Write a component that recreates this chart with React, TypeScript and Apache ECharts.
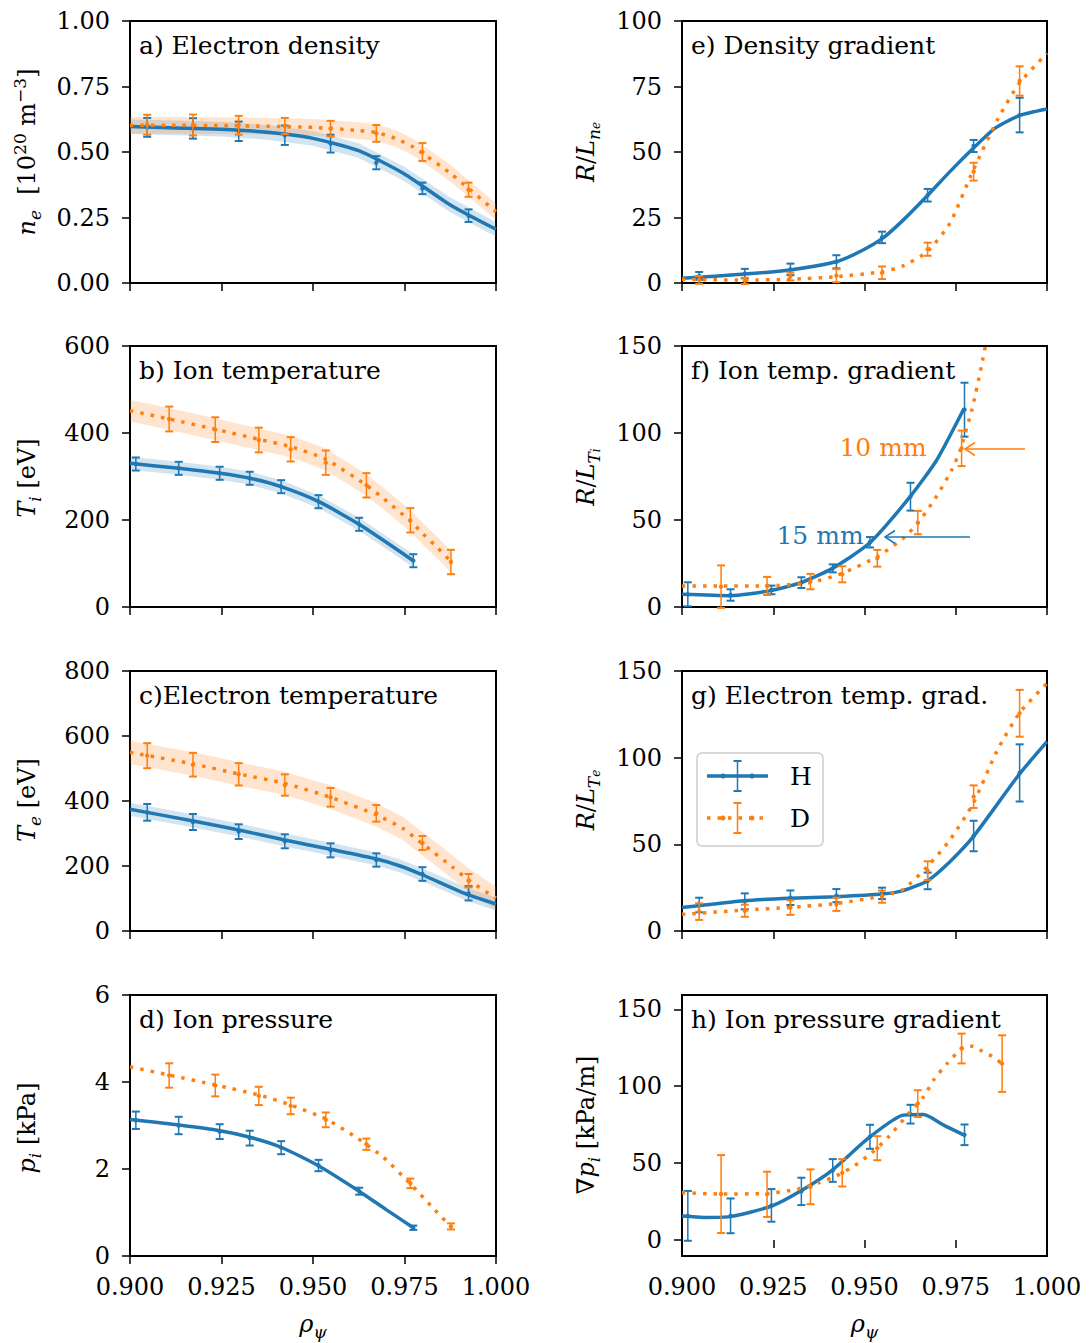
import React, { useEffect, useRef } from "react";
import * as echarts from "echarts";

const BLUE = "#1f77b4";
const ORANGE = "#ff7f0e";
const BLUE_BAND = "rgba(31,119,180,0.2)";
const ORANGE_BAND = "rgba(255,127,14,0.2)";
const FONT = "DejaVu Serif";

// ---- x axis ----
const xMin = 0.9;
const xMax = 1.0;
const xStep = 0.025;

// ---- measurement locations ----
const rhoA = [0.9047, 0.9172, 0.9297, 0.9423, 0.9548, 0.9673, 0.9799, 0.9925];
const rhoTiH = [0.9016, 0.9133, 0.9245, 0.9327, 0.9413, 0.9515, 0.9626, 0.9774];
const rhoTiD = [0.9107, 0.9233, 0.9352, 0.9439, 0.9535, 0.9646, 0.9766, 0.9877];

// ---- a) electron density ----
const neH = [0.594, 0.59, 0.579, 0.564, 0.532, 0.459, 0.361, 0.257];
const neHErr = [0.036, 0.039, 0.037, 0.037, 0.034, 0.025, 0.022, 0.024];
const neD = [0.604, 0.603, 0.602, 0.599, 0.589, 0.571, 0.5, 0.356];
const neDErr = [0.038, 0.04, 0.036, 0.031, 0.03, 0.032, 0.034, 0.027];
const neHFitRho = [0.9, 0.9125, 0.925, 0.9375, 0.95, 0.9625, 0.975, 0.9875, 1.0];
const neHFit = [0.597, 0.592, 0.587, 0.575, 0.552, 0.505, 0.416, 0.298, 0.205];
const neDFitRho = [0.9, 0.9125, 0.925, 0.9375, 0.95, 0.9625, 0.9675, 0.9725, 0.9775, 0.9875, 1.0];
const neDFit = [0.602, 0.602, 0.601, 0.598, 0.594, 0.582, 0.574, 0.552, 0.518, 0.419, 0.272];
const neHBand = 0.028;
const neDBand = 0.032;

// ---- b) ion temperature ----
const TiH = [328.7, 318.8, 307.4, 295.9, 276.6, 242.1, 190.1, 106.4];
const TiHErr = [15, 15, 15, 15, 15, 15, 15, 15];
const TiD = [432.2, 407.7, 383.9, 362.5, 331.8, 279.7, 199.3, 103.4];
const TiDErr = [28.5, 28.4, 28.4, 28, 28, 28, 28, 28];
const TiHFitRho = [0.9, 0.9134, 0.9246, 0.9328, 0.9413, 0.9516, 0.9626, 0.9774];
const TiHFit = [330.3, 318.8, 307.4, 295.9, 276.6, 242.1, 190.1, 106.4];
const TiDFitRho = [0.9, 0.9107, 0.9234, 0.9353, 0.944, 0.9535, 0.9645, 0.9692, 0.9765, 0.9801, 0.9842, 0.9877];
const TiDFit = [451.3, 432.2, 408.4, 385.4, 368.5, 339.5, 280.5, 249.8, 198.5, 167.8, 134.9, 104.2];
const TiHBand = 15;
const TiDBand = 25;

// ---- c) electron temperature ----
const TeH = [365.1, 335.4, 305.6, 276.0, 248.2, 218.5, 175.4, 116.0];
const TeHErr = [25.6, 24.6, 22.6, 21.5, 21.5, 20.5, 21, 22];
const TeD = [539.4, 511.7, 482.1, 449.2, 411.4, 362.1, 270.8, 154.8];
const TeDErr = [38.5, 36.4, 34.4, 32.8, 28.7, 25.6, 21.5, 20.5];
const TeHFitRho = [0.9, 0.9173, 0.9298, 0.9423, 0.9548, 0.9674, 0.9738, 0.98, 0.9925, 1.0];
const TeHFit = [374.4, 338.5, 310.8, 280, 251.3, 221.5, 200, 172.3, 110.8, 83.1];
const TeDFitRho = [0.9, 0.9173, 0.9298, 0.9423, 0.9548, 0.9674, 0.9745, 0.98, 0.9882, 0.9925, 1.0];
const TeDFit = [549.7, 513.8, 483.1, 454.2, 411.4, 356.9, 315.9, 267.7, 196, 156.9, 100.5];
const TeHBand = 20;
const TeDBand = 36;

// ---- d) ion pressure ----
const piH = [3.12, 3.0, 2.86, 2.71, 2.49, 2.08, 1.49, 0.65];
const piHErr = [0.2, 0.2, 0.17, 0.17, 0.15, 0.13, 0.08, 0.05];
const piD = [4.15, 3.92, 3.68, 3.45, 3.13, 2.57, 1.67, 0.68];
const piDErr = [0.28, 0.25, 0.21, 0.19, 0.17, 0.13, 0.11, 0.07];
const piHFitRho = [0.9, 0.9134, 0.9246, 0.9328, 0.9413, 0.9516, 0.9626, 0.9701, 0.9774];
const piHFit = [3.14, 3.01, 2.88, 2.73, 2.5, 2.07, 1.49, 1.06, 0.65];
const piDFitRho = [0.9, 0.9107, 0.9234, 0.9353, 0.944, 0.9535, 0.9621, 0.9692, 0.9765, 0.9833, 0.9877];
const piDFit = [4.35, 4.16, 3.93, 3.7, 3.47, 3.15, 2.71, 2.27, 1.67, 1.06, 0.67];

// ---- e) density gradient ----
const LnH = [2.7, 3.6, 5.2, 8.1, 17.4, 33.5, 52.3, 64.1];
const LnHErr = [1.5, 1.8, 2.2, 2.5, 2.2, 2.4, 2.3, 6.6];
const LnD = [1.2, 0.8, 2.5, 2.8, 3.9, 12.9, 42.5, 77.1];
const LnDErr = [1.5, 1.2, 1.5, 2.5, 2.4, 2.5, 3.4, 5.6];
const LnHFitRho = [0.9, 0.9171, 0.9296, 0.9422, 0.9488, 0.9549, 0.9606, 0.9672, 0.9734, 0.9798, 0.9857, 0.9924, 1.0];
const LnHFit = [1.8, 3.4, 5.0, 8.1, 12.0, 17.0, 24.0, 33.3, 42.5, 51.4, 59.0, 63.9, 66.4];
const LnDFitRho = [0.9, 0.9171, 0.9296, 0.9422, 0.9549, 0.9606, 0.9672, 0.9734, 0.9798, 0.9866, 0.9924, 1.0];
const LnDFit = [1.4, 1.1, 1.4, 2.4, 4.3, 6.5, 12.0, 22.8, 43.1, 62.8, 76.2, 87.7];

// ---- f) ion temperature gradient ----
const LTiH = [7.3, 6.9, 9.8, 14.0, 22.2, 37.2, 63.4, 113.4];
const LTiHErr = [6.9, 3.3, 2.5, 3.1, 2.3, 3.0, 8.0, 15.5];
const LTiD = [11.7, 12.1, 14.6, 18.8, 28.0, 48.5, 91.2];
const LTiDErr = [12.2, 5.2, 4.4, 4.6, 4.8, 6.7, 10.2];
const LTiHFitRho = [0.9, 0.9132, 0.9243, 0.9326, 0.9412, 0.9513, 0.9625, 0.9698, 0.9773];
const LTiHFit = [7.3, 6.5, 9.4, 14.0, 22.2, 36.6, 63.4, 84.5, 114.2];
const LTiDFitRho = [0.9, 0.9107, 0.9232, 0.9351, 0.9438, 0.9535, 0.9606, 0.9646, 0.9698, 0.9739, 0.9762, 0.9794, 0.9821, 0.9845];
const LTiDFit = [12.1, 12.1, 12.1, 14.0, 19.3, 28.9, 39.5, 48.1, 63.8, 78.7, 90.2, 113.2, 139.1, 165];

// ---- g) electron temperature gradient ----
const LTeH = [15.0, 17.1, 19.2, 20.4, 21.7, 28.9, 54.8, 91.2];
const LTeHErr = [4.2, 4.6, 4.2, 3.8, 3.3, 4.8, 8.8, 16.5];
const LTeD = [11.2, 11.7, 13.5, 15.4, 19.8, 34.8, 77.5, 125.6];
const LTeDErr = [4.8, 3.5, 4.2, 3.8, 3.5, 5.4, 6.5, 13.5];
const LTeHFitRho = [0.9, 0.9171, 0.9296, 0.9424, 0.9549, 0.9606, 0.9672, 0.9734, 0.9798, 0.9924, 1.0];
const LTeHFit = [13.5, 17.5, 18.9, 19.8, 21.3, 23.3, 28.9, 40.0, 54.4, 90.4, 109.2];
const LTeDFitRho = [0.9, 0.9171, 0.9296, 0.9424, 0.9549, 0.9606, 0.9672, 0.9734, 0.9798, 0.9862, 0.9924, 1.0];
const LTeDFit = [9.6, 12.1, 13.6, 15.9, 20.2, 24.0, 37.1, 52.5, 73.7, 103.5, 125.6, 142.9];

// ---- h) ion pressure gradient ----
const gpH = [15.7, 15.7, 22.5, 31.6, 45.2, 67.1, 81.8, 68.4];
const gpHErr = [16.2, 11.3, 10.6, 8.9, 7.4, 7.8, 6.1, 6.7];
const gpD = [29.9, 29.7, 34.6, 43.7, 59.7, 88.7, 124.5, 114.7];
const gpDErr = [25.3, 14.7, 11.3, 8.9, 7.8, 8.7, 9.7, 18.4];
const gpHFitRho = [0.9, 0.906, 0.9132, 0.9246, 0.9326, 0.9412, 0.9513, 0.9606, 0.9662, 0.9717, 0.9773];
const gpHFit = [15.6, 14.7, 15.2, 22.1, 32.0, 45.5, 66.7, 81.2, 81.6, 74.7, 68.2];
const gpDFitRho = [0.9, 0.9107, 0.9232, 0.9315, 0.9374, 0.9424, 0.9474, 0.952, 0.9566, 0.9621, 0.9662, 0.9689, 0.9726, 0.9772, 0.9797, 0.9822, 0.9849, 0.9877];
const gpDFit = [30.8, 29.9, 30.3, 32.9, 37.2, 41.8, 48.5, 56.7, 67.1, 82.3, 93.1, 103.9, 114.7, 125.5, 126.0, 122.9, 119.5, 114.7];

// ---- y axes ----
const yTicksH = [0, 50, 100, 150];

const RICH: any = {
  r: { fontSize: 24, fontFamily: FONT, lineHeight: 32, fill: "#000" },
  i: { fontSize: 24, fontFamily: FONT, fontStyle: "italic", lineHeight: 32, fill: "#000" },
  sb: { fontSize: 17, fontFamily: FONT, lineHeight: 17, verticalAlign: "bottom", fill: "#000" },
  sbi: { fontSize: 17, fontFamily: FONT, fontStyle: "italic", lineHeight: 17, verticalAlign: "bottom", fill: "#000" },
  ssb: { fontSize: 12, fontFamily: FONT, fontStyle: "italic", lineHeight: 10, verticalAlign: "bottom", fill: "#000" },
  sp: { fontSize: 17, fontFamily: FONT, lineHeight: 17, verticalAlign: "top", fill: "#000" },
};

type Curve = { fitRho: number[]; fit: number[]; band?: number; ptRho: number[]; pt: number[]; err: number[] };
type Panel = {
  col: number; row: number; title: string;
  yMin: number; yMax: number; yInterval?: number; yCustom?: number[]; yDec: number;
  ylabel: string; ylabelX: number; ylabelY: number;
  H: Curve; D: Curve;
};

const panels: Panel[] = [
  { col: 0, row: 0, title: "a) Electron density", yMin: 0, yMax: 1, yInterval: 0.25, yDec: 2,
    ylabel: "{i|n}{sbi|e}{r|  [10}{sp|20}{r| m}{sp|−3}{r|]}", ylabelX: 27, ylabelY: 152,
    H: { fitRho: neHFitRho, fit: neHFit, band: neHBand, ptRho: rhoA, pt: neH, err: neHErr },
    D: { fitRho: neDFitRho, fit: neDFit, band: neDBand, ptRho: rhoA, pt: neD, err: neDErr } },
  { col: 0, row: 1, title: "b) Ion temperature", yMin: 0, yMax: 600, yInterval: 200, yDec: 0,
    ylabel: "{i|T}{sbi|i}{r| [eV]}", ylabelX: 27, ylabelY: 478,
    H: { fitRho: TiHFitRho, fit: TiHFit, band: TiHBand, ptRho: rhoTiH, pt: TiH, err: TiHErr },
    D: { fitRho: TiDFitRho, fit: TiDFit, band: TiDBand, ptRho: rhoTiD, pt: TiD, err: TiDErr } },
  { col: 0, row: 2, title: "c)Electron temperature", yMin: 0, yMax: 800, yInterval: 200, yDec: 0,
    ylabel: "{i|T}{sbi|e}{r| [eV]}", ylabelX: 27, ylabelY: 800,
    H: { fitRho: TeHFitRho, fit: TeHFit, band: TeHBand, ptRho: rhoA, pt: TeH, err: TeHErr },
    D: { fitRho: TeDFitRho, fit: TeDFit, band: TeDBand, ptRho: rhoA, pt: TeD, err: TeDErr } },
  { col: 0, row: 3, title: "d) Ion pressure", yMin: 0, yMax: 6, yInterval: 2, yDec: 0,
    ylabel: "{i|p}{sbi|i}{r| [kPa]}", ylabelX: 27, ylabelY: 1128,
    H: { fitRho: piHFitRho, fit: piHFit, ptRho: rhoTiH, pt: piH, err: piHErr },
    D: { fitRho: piDFitRho, fit: piDFit, ptRho: rhoTiD, pt: piD, err: piDErr } },
  { col: 1, row: 0, title: "e) Density gradient", yMin: 0, yMax: 100, yInterval: 25, yDec: 0,
    ylabel: "{i|R}{r|/}{i|L}{sbi|n}{ssb|e}", ylabelX: 586, ylabelY: 152,
    H: { fitRho: LnHFitRho, fit: LnHFit, ptRho: rhoA, pt: LnH, err: LnHErr },
    D: { fitRho: LnDFitRho, fit: LnDFit, ptRho: rhoA, pt: LnD, err: LnDErr } },
  { col: 1, row: 1, title: "f) Ion temp. gradient", yMin: 0, yMax: 150, yInterval: 50, yDec: 0,
    ylabel: "{i|R}{r|/}{i|L}{sbi|T}{ssb|i}", ylabelX: 586, ylabelY: 477,
    H: { fitRho: LTiHFitRho, fit: LTiHFit, ptRho: rhoTiH, pt: LTiH, err: LTiHErr },
    D: { fitRho: LTiDFitRho, fit: LTiDFit, ptRho: rhoTiD, pt: LTiD, err: LTiDErr } },
  { col: 1, row: 2, title: "g) Electron temp. grad.", yMin: 0, yMax: 150, yInterval: 50, yDec: 0,
    ylabel: "{i|R}{r|/}{i|L}{sbi|T}{ssb|e}", ylabelX: 586, ylabelY: 800,
    H: { fitRho: LTeHFitRho, fit: LTeHFit, ptRho: rhoA, pt: LTeH, err: LTeHErr },
    D: { fitRho: LTeDFitRho, fit: LTeDFit, ptRho: rhoA, pt: LTeD, err: LTeDErr } },
  { col: 1, row: 3, title: "h) Ion pressure gradient", yMin: -10.4, yMax: 159.3, yCustom: yTicksH, yDec: 0,
    ylabel: "{r|∇}{i|p}{sbi|i}{r| [kPa/m]}", ylabelX: 586, ylabelY: 1125,
    H: { fitRho: gpHFitRho, fit: gpHFit, ptRho: rhoTiH, pt: gpH, err: gpHErr },
    D: { fitRho: gpDFitRho, fit: gpDFit, ptRho: rhoTiD, pt: gpD, err: gpDErr } },
];

const COLS = [
  { left: 130, width: 366 },
  { left: 682, width: 365 },
];
const ROWS = [
  { top: 21, height: 262 },
  { top: 346, height: 261 },
  { top: 671, height: 260 },
  { top: 995, height: 261 },
];

function bandSeries(k: number, xs: number[], ys: number[], half: number, color: string) {
  const pts = xs.map((x, i) => [x, ys[i] - half, ys[i] + half]);
  return {
    type: "custom",
    xAxisIndex: k,
    yAxisIndex: k,
    data: pts,
    encode: { x: 0, y: [1, 2] },
    silent: true,
    z: 1,
    renderItem: (params: any, api: any) => {
      if (params.dataIndex !== 0) return null;
      const upper = pts.map((p) => api.coord([p[0], p[2]]));
      const lower = pts.map((p) => api.coord([p[0], p[1]])).reverse();
      return { type: "polygon", shape: { points: upper.concat(lower) }, style: { fill: color } };
    },
  };
}

function errSeries(k: number, xs: number[], ys: number[], es: number[], color: string, z: number) {
  const data = ys.map((y, i) => [xs[i], y, es[i]]);
  return {
    type: "custom",
    xAxisIndex: k,
    yAxisIndex: k,
    data,
    encode: { x: 0, y: 1 },
    silent: true,
    z,
    renderItem: (params: any, api: any) => {
      const x = api.value(0);
      const y = api.value(1);
      const e = api.value(2);
      const t = api.coord([x, y + e]);
      const b = api.coord([x, y - e]);
      const c = api.coord([x, y]);
      const w = 4;
      return {
        type: "group",
        children: [
          { type: "line", shape: { x1: t[0], y1: t[1], x2: b[0], y2: b[1] }, style: { stroke: color, lineWidth: 1.5 } },
          { type: "line", shape: { x1: t[0] - w, y1: t[1], x2: t[0] + w, y2: t[1] }, style: { stroke: color, lineWidth: 2 } },
          { type: "line", shape: { x1: b[0] - w, y1: b[1], x2: b[0] + w, y2: b[1] }, style: { stroke: color, lineWidth: 2 } },
          { type: "circle", shape: { cx: c[0], cy: c[1], r: 2.2 }, style: { fill: color } },
        ],
      };
    },
  };
}

function lineSeries(k: number, xs: number[], ys: number[], color: string, dotted: boolean, z: number) {
  return {
    type: "line",
    xAxisIndex: k,
    yAxisIndex: k,
    data: xs.map((x, i) => [x, ys[i]]),
    showSymbol: false,
    symbol: "none",
    smooth: 0.2,
    clip: true,
    silent: true,
    z,
    lineStyle: dotted
      ? { color, width: 3.5, type: [3.5, 7], cap: "butt" }
      : { color, width: 3.5 },
  };
}

function buildOption() {
  const grids: any[] = [];
  const xAxes: any[] = [];
  const yAxes: any[] = [];
  const series: any[] = [];
  const graphics: any[] = [];

  panels.forEach((p, k) => {
    const c = COLS[p.col];
    const r = ROWS[p.row];
    grids.push({
      left: c.left, top: r.top, width: c.width, height: r.height,
      show: true, borderColor: "#000", borderWidth: 2, backgroundColor: "transparent",
      containLabel: false,
    });
    xAxes.push({
      type: "value", gridIndex: k, min: xMin, max: xMax, interval: xStep,
      axisLine: { show: false },
      axisTick: { show: true, length: 8, lineStyle: { color: "#000", width: 1.5 } },
      axisLabel: {
        show: p.row === 3, color: "#000", fontSize: 24, fontFamily: FONT, margin: 19,
        formatter: (v: number) => v.toFixed(3),
      },
      splitLine: { show: false },
    });
    const y: any = {
      type: "value", gridIndex: k, min: p.yMin, max: p.yMax,
      axisLine: { show: false },
      axisTick: { show: true, length: 8, lineStyle: { color: "#000", width: 1.5 } },
      axisLabel: {
        color: "#000", fontSize: 24, fontFamily: FONT, margin: 20,
        formatter: (v: number) => v.toFixed(p.yDec),
      },
      splitLine: { show: false },
    };
    if (p.yCustom) {
      y.axisTick.customValues = p.yCustom;
      y.axisLabel.customValues = p.yCustom;
    } else {
      y.interval = p.yInterval;
    }
    yAxes.push(y);

    if (p.H.band !== undefined) series.push(bandSeries(k, p.H.fitRho, p.H.fit, p.H.band, BLUE_BAND));
    if (p.D.band !== undefined) series.push(bandSeries(k, p.D.fitRho, p.D.fit, p.D.band, ORANGE_BAND));
    series.push(lineSeries(k, p.H.fitRho, p.H.fit, BLUE, false, 3));
    series.push(errSeries(k, p.H.ptRho, p.H.pt, p.H.err, BLUE, 4));
    series.push(lineSeries(k, p.D.fitRho, p.D.fit, ORANGE, true, 5));
    series.push(errSeries(k, p.D.ptRho, p.D.pt, p.D.err, ORANGE, 6));

    graphics.push({
      type: "text", x: c.left + 9, y: r.top + 24, z: 10,
      style: { text: p.title, fontSize: 25, fontFamily: FONT, fill: "#000", align: "left", verticalAlign: "middle" },
    });
    graphics.push({
      type: "text", x: p.ylabelX, y: p.ylabelY, rotation: Math.PI / 2, z: 10,
      style: { text: p.ylabel, rich: RICH, align: "center", verticalAlign: "middle" },
    });
    if (p.row === 3) {
      graphics.push({
        type: "text", x: c.left + c.width / 2, y: 1324, z: 10,
        style: { text: "{i|ρ}{sbi|ψ}", rich: RICH, align: "center", verticalAlign: "middle" },
      });
    }
  });

  // legend (panel g)
  graphics.push({
    type: "rect", z: 20,
    shape: { x: 697, y: 753, width: 126, height: 93, r: 5 },
    style: { fill: "rgba(255,255,255,0.8)", stroke: "#cccccc", lineWidth: 1.5 },
  });
  const legendRows = [
    { y: 776, color: BLUE, dotted: false, label: "H" },
    { y: 818, color: ORANGE, dotted: true, label: "D" },
  ];
  legendRows.forEach((lr) => {
    graphics.push({
      type: "line", z: 21,
      shape: { x1: 707, y1: lr.y, x2: 768, y2: lr.y },
      style: lr.dotted
        ? { stroke: lr.color, lineWidth: 3.5, lineDash: [3.5, 7], lineCap: "butt" }
        : { stroke: lr.color, lineWidth: 3.5 },
    });
    graphics.push({ type: "line", z: 22, shape: { x1: 737.5, y1: lr.y - 15, x2: 737.5, y2: lr.y + 15 }, style: { stroke: lr.color, lineWidth: 1.5 } });
    graphics.push({ type: "line", z: 22, shape: { x1: 733.5, y1: lr.y - 15, x2: 741.5, y2: lr.y - 15 }, style: { stroke: lr.color, lineWidth: 2 } });
    graphics.push({ type: "line", z: 22, shape: { x1: 733.5, y1: lr.y + 15, x2: 741.5, y2: lr.y + 15 }, style: { stroke: lr.color, lineWidth: 2 } });
    [723, 752].forEach((mx) => {
      graphics.push({ type: "circle", z: 22, shape: { cx: mx, cy: lr.y, r: 2.5 }, style: { fill: lr.color } });
    });
    graphics.push({
      type: "text", z: 22, x: 790, y: lr.y,
      style: { text: lr.label, fontSize: 25, fontFamily: FONT, fill: "#000", align: "left", verticalAlign: "middle" },
    });
  });

  // annotations (panel f)
  const arrows = [
    { color: ORANGE, x1: 1025, x2: 965, y: 449, text: "10 mm", tx: 883, ty: 447 },
    { color: BLUE, x1: 970, x2: 885, y: 537, text: "15 mm", tx: 820, ty: 535 },
  ];
  arrows.forEach((a) => {
    graphics.push({ type: "line", z: 15, shape: { x1: a.x1, y1: a.y, x2: a.x2, y2: a.y }, style: { stroke: a.color, lineWidth: 1.5 } });
    graphics.push({
      type: "polyline", z: 15,
      shape: { points: [[a.x2 + 10, a.y - 6.5], [a.x2, a.y], [a.x2 + 10, a.y + 6.5]] },
      style: { stroke: a.color, lineWidth: 1.5, fill: "none" },
    });
    graphics.push({
      type: "text", z: 15, x: a.tx, y: a.ty,
      style: { text: a.text, fontSize: 25, fontFamily: FONT, fill: a.color, align: "center", verticalAlign: "middle" },
    });
  });

  return {
    animation: false,
    backgroundColor: "#fff",
    textStyle: { fontFamily: FONT },
    grid: grids,
    xAxis: xAxes,
    yAxis: yAxes,
    series,
    graphic: graphics,
  };
}

export default function App() {
  const ref = useRef<HTMLDivElement>(null);
  useEffect(() => {
    if (!ref.current) return;
    const chart = echarts.init(ref.current, undefined, { renderer: "svg" });
    chart.setOption(buildOption() as any);
    return () => chart.dispose();
  }, []);
  return (
    <div
      ref={ref}
      style={{ position: "absolute", left: 0, top: 0, width: 1090, height: 1343, background: "#fff" }}
    />
  );
}
